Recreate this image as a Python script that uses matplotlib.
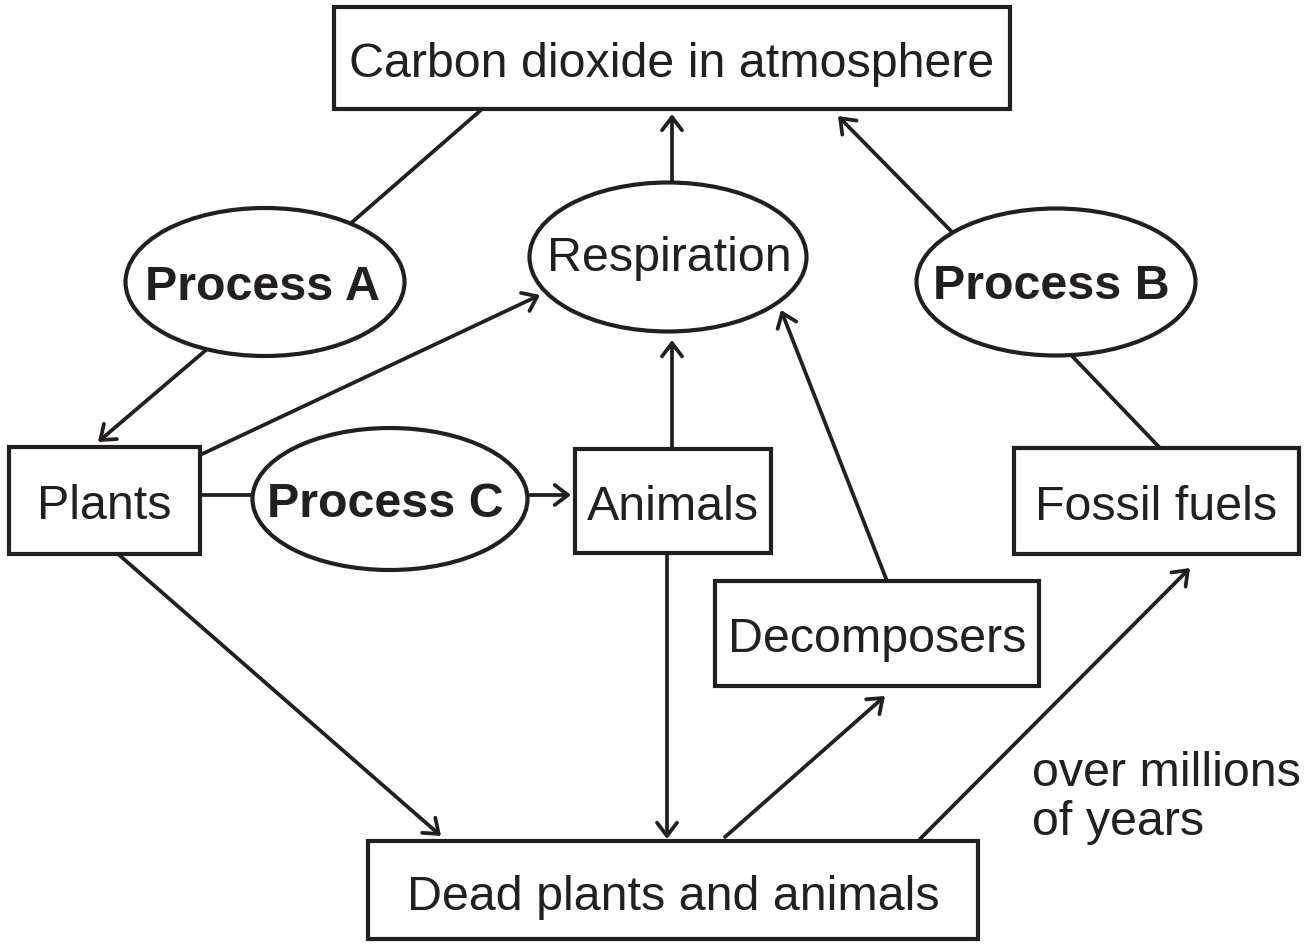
import matplotlib
matplotlib.use('Agg')
import matplotlib.pyplot as plt
from matplotlib.patches import Rectangle, Ellipse, FancyArrowPatch

# --- labels ---
box_labels = ["Carbon dioxide in atmosphere", "Plants", "Animals",
              "Fossil fuels", "Decomposers", "Dead plants and animals"]
oval_labels = ["Respiration", "Process A", "Process B", "Process C"]
note_lines = ["over millions", "of years"]

# --- layout (pixel coords, y down) ---
# box: (x0, y0, x1, y1, text baseline)
box_pos = {
    "Carbon dioxide in atmosphere": (334, 8, 1010, 110, 77),
    "Plants": (9, 448, 200, 555, 519),
    "Animals": (575, 450, 771, 554, 520),
    "Fossil fuels": (1014, 449, 1299, 555, 520),
    "Decomposers": (715, 582, 1039, 687, 652),
    "Dead plants and animals": (368, 842, 978, 940, 910),
}
# oval: (cx, cy, w, h, text x, text baseline)
oval_pos = {
    "Respiration": (668, 258, 277, 149, 669, 271),
    "Process A": (265, 283, 279, 148, 262, 300),
    "Process B": (1056, 283, 279, 147, 1051, 299),
    "Process C": (390, 500, 275, 142, 385, 517),
}
# links: (x0, y0, x1, y1, arrow at end?)
links = [
    (350, 225, 481, 111, False),   # Process A - CO2
    (206, 351, 98, 443, True),     # Process A -> Plants
    (200, 456, 540, 296, True),    # Plants -> Respiration
    (200, 496, 253, 496, False),   # Plants - Process C
    (528, 496, 571, 496, True),    # Process C -> Animals
    (672, 450, 672, 341, True),    # Animals -> Respiration
    (672, 184, 672, 115, True),    # Respiration -> CO2
    (952, 233, 838, 117, True),    # Process B -> CO2
    (1072, 357, 1160, 449, False), # Process B - Fossil fuels
    (887, 582, 781, 311, True),    # Decomposers -> Respiration
    (118, 555, 441, 837, True),    # Plants -> Dead
    (667, 554, 667, 840, True),    # Animals -> Dead
    (725, 838, 885, 697, True),    # Dead -> Decomposers
    (920, 840, 1190, 569, True),   # Dead -> Fossil fuels
]

ink = '#231f20'
fs = 34.8
lw = 2.7

fig = plt.figure(figsize=(13.1, 9.45), dpi=100)
ax = fig.add_axes([0, 0, 1, 1])
ax.set_xlim(0, 1310)
ax.set_ylim(945, 0)
ax.axis('off')

for x0, y0, x1, y1, arr in links:
    style = '->,head_length=0.95,head_width=0.72' if arr else '-'
    ax.add_patch(FancyArrowPatch((x0, y0), (x1, y1), arrowstyle=style,
                                 mutation_scale=10, lw=lw, color=ink,
                                 shrinkA=0, shrinkB=0, zorder=1))

for lab in box_labels:
    x0, y0, x1, y1, base = box_pos[lab]
    ax.add_patch(Rectangle((x0, y0), x1 - x0, y1 - y0, fc='white', ec=ink,
                           lw=3.0, zorder=2))
    ax.text((x0 + x1) / 2, base, lab, ha='center', va='baseline',
            fontsize=fs, family='Liberation Sans', color=ink, zorder=3)

for lab in oval_labels:
    cx, cy, w, h, tx, base = oval_pos[lab]
    ax.add_patch(Ellipse((cx, cy), w, h, fc='white', ec=ink, lw=3.0, zorder=2))
    weight = 'bold' if lab.startswith('Process') else 'normal'
    ax.text(tx, base, lab, ha='center', va='baseline', fontsize=fs,
            fontweight=weight, family='Liberation Sans', color=ink, zorder=3)

ax.text(1032, 786, note_lines[0], ha='left', va='baseline', fontsize=fs,
        family='Liberation Sans', color=ink)
ax.text(1032, 835, note_lines[1], ha='left', va='baseline', fontsize=fs,
        family='Liberation Sans', color=ink)

fig.savefig('out.png', dpi=100, facecolor='white')
